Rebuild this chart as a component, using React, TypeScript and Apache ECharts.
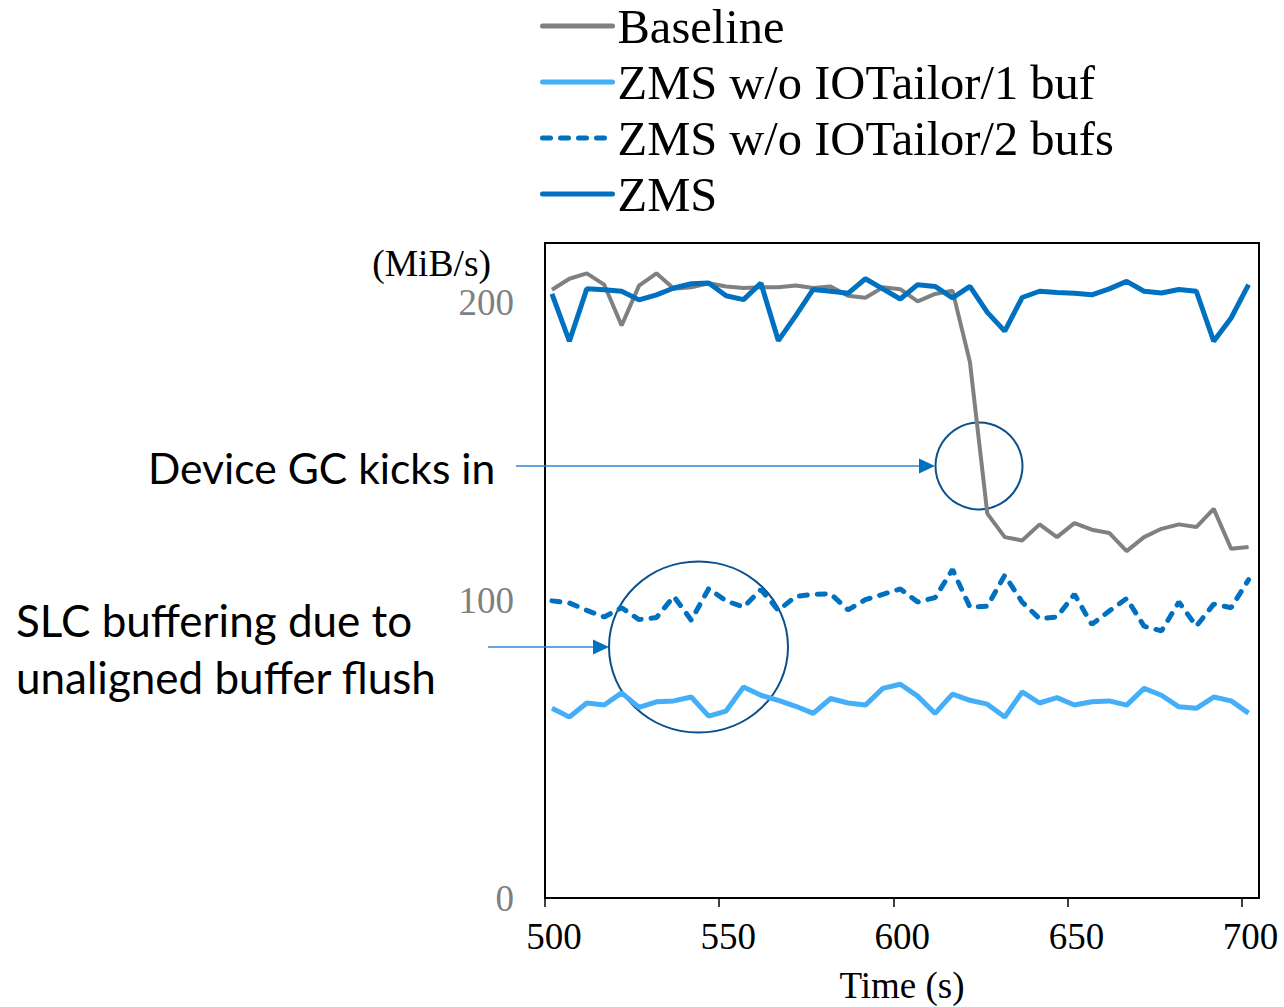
import React, { useEffect, useRef } from "react";
import * as echarts from "echarts";

const times = [502, 507, 512, 517, 522, 527, 532, 537, 542, 547, 552, 557, 562, 567, 572, 577, 582, 587, 592, 597, 602, 607, 612, 617, 622, 627, 632, 637, 642, 647, 652, 657, 662, 667, 672, 677, 682, 687, 692, 697, 702];

const baseline = [204.3, 208.0, 209.8, 206.0, 192.3, 205.7, 209.8, 204.6, 205.1, 206.5, 205.4, 204.9, 205.1, 205.1, 205.7, 204.9, 205.4, 202.3, 201.6, 205.1, 204.5, 200.4, 202.9, 204.0, 180.0, 129.1, 121.2, 120.1, 125.5, 121.2, 125.9, 123.7, 122.6, 116.5, 121.2, 124.0, 125.5, 124.6, 130.7, 117.3, 117.9];
const oneBuf = [63.7, 60.8, 65.5, 64.8, 68.9, 64.0, 65.9, 66.2, 67.5, 61.1, 62.8, 70.9, 68.1, 66.4, 64.4, 62.0, 67.0, 65.5, 64.8, 70.4, 71.8, 67.8, 62.0, 68.5, 66.4, 65.1, 60.8, 69.2, 65.5, 67.3, 64.8, 65.9, 66.2, 64.8, 70.4, 68.1, 64.2, 63.7, 67.5, 66.2, 62.1];
const twoBufs = [99.8, 99.1, 96.6, 94.4, 97.5, 93.5, 94.2, 101.3, 93.3, 103.9, 99.8, 97.7, 103.6, 96.6, 101.3, 102.0, 102.2, 96.8, 100.2, 102.0, 103.8, 99.4, 100.9, 110.3, 97.7, 98.0, 108.4, 99.4, 93.8, 94.4, 102.0, 91.9, 96.4, 100.6, 91.3, 89.7, 99.4, 91.3, 98.7, 97.5, 106.9];
const zms = [202.9, 187.0, 204.6, 204.3, 203.8, 200.9, 202.6, 204.9, 206.3, 206.6, 202.3, 201.0, 206.5, 187.2, 195.6, 204.4, 203.8, 203.1, 208.0, 204.6, 201.2, 206.0, 205.4, 201.6, 205.4, 196.7, 190.4, 201.7, 203.8, 203.4, 203.1, 202.6, 204.6, 207.1, 203.8, 203.2, 204.4, 203.8, 187.0, 194.8, 206.0];

const seriesNames = ["Baseline", "ZMS w/o IOTailor/1 buf", "ZMS w/o IOTailor/2 bufs", "ZMS"];
const xTicks = [500, 550, 600, 650, 700];
const yTicks = [0, 100, 200];

const serif = "'Liberation Serif', 'Times New Roman', serif";
const sans = "Lato, 'Noto Sans', sans-serif";

function pairs(vals: number[]) {
  return vals.map((v, i) => [times[i], v]);
}

export default function App() {
  const ref = useRef<HTMLDivElement>(null);
  useEffect(() => {
    document.body.style.margin = "0";
    const chart = echarts.init(ref.current!, null, { renderer: "svg" });
    const circleColor = "#0b4f8c";
    const arrowColor = "#0070c0";
    chart.setOption({
      animation: false,
      backgroundColor: "#ffffff",
      grid: {
        left: 545,
        right: 25,
        top: 243,
        bottom: 109,
        show: true,
        borderColor: "#000",
        borderWidth: 2,
        containLabel: false,
        outerBoundsMode: "none",
      },
      legend: {
        orient: "vertical",
        left: 540,
        top: 1,
        padding: 0,
        itemWidth: 70,
        itemHeight: 14,
        itemGap: 6,
        data: seriesNames,
        textStyle: { fontFamily: serif, fontSize: 48.5, color: "#000", lineHeight: 50 },
        lineStyle: { width: 5, cap: "round" },
        itemStyle: { opacity: 0 },
      },
      xAxis: {
        type: "value",
        min: 500,
        max: 705,
        interval: 50,
        axisLine: { show: true, lineStyle: { color: "#000", width: 2 } },
        axisTick: { show: true, length: 9, customValues: xTicks, lineStyle: { color: "#000", width: 1.5 } },
        axisLabel: {
          customValues: xTicks,
          margin: 20,
          fontFamily: serif,
          fontSize: 37,
          color: "#000",
          padding: [0, 0, 0, 18],
        },
        splitLine: { show: false },
        name: "Time (s)",
        nameLocation: "middle",
        nameGap: 69,
        nameTextStyle: { fontFamily: serif, fontSize: 37, color: "#000" },
      },
      yAxis: {
        type: "value",
        min: 0,
        max: 220,
        interval: 100,
        axisLine: { show: false },
        axisTick: { show: false },
        splitLine: { show: false },
        axisLabel: {
          margin: 31,
          fontFamily: serif,
          fontSize: 37,
          color: "#7f7f7f",
          formatter: (v: number) => (yTicks.includes(v) ? String(v) : ""),
        },
      },
      series: [
        {
          name: seriesNames[0],
          type: "line",
          data: pairs(baseline),
          symbol: "none",
          showSymbol: false,
          lineStyle: { color: "#808080", width: 4 },
          itemStyle: { color: "#808080" },
        },
        {
          name: seriesNames[1],
          type: "line",
          data: pairs(oneBuf),
          symbol: "none",
          showSymbol: false,
          lineStyle: { color: "#45aef8", width: 5 },
          itemStyle: { color: "#45aef8" },
        },
        {
          name: seriesNames[2],
          type: "line",
          data: pairs(twoBufs),
          symbol: "none",
          showSymbol: false,
          lineStyle: { color: "#0070c0", width: 5, type: [8, 10], cap: "round" },
          itemStyle: { color: "#0070c0" },
        },
        {
          name: seriesNames[3],
          type: "line",
          data: pairs(zms),
          symbol: "none",
          showSymbol: false,
          lineStyle: { color: "#0070c0", width: 5 },
          itemStyle: { color: "#0070c0" },
        },
      ],
      graphic: [
        {
          type: "text",
          x: 491,
          y: 263,
          style: { text: "(MiB/s)", fontFamily: serif, fontSize: 37.5, fill: "#000", align: "right", verticalAlign: "middle" },
        },
        {
          type: "text",
          x: 148,
          y: 467,
          style: { text: "Device GC kicks in", fontFamily: sans, fontSize: 42.6, fill: "#000", align: "left", verticalAlign: "middle" },
        },
        {
          type: "text",
          x: 16,
          y: 620,
          style: { text: "SLC buffering due to", fontFamily: sans, fontSize: 44, fill: "#000", align: "left", verticalAlign: "middle" },
        },
        {
          type: "text",
          x: 16,
          y: 677,
          style: { text: "unaligned buffer flush", fontFamily: sans, fontSize: 44, fill: "#000", align: "left", verticalAlign: "middle" },
        },
        {
          type: "line",
          shape: { x1: 516, y1: 466, x2: 921, y2: 466 },
          style: { stroke: "#2f88d4", lineWidth: 1.5 },
        },
        {
          type: "polygon",
          shape: { points: [[935, 466], [919, 458.5], [919, 473.5]] },
          style: { fill: arrowColor },
        },
        {
          type: "circle",
          shape: { cx: 979, cy: 466, r: 43.5 },
          style: { fill: "none", stroke: circleColor, lineWidth: 2 },
        },
        {
          type: "line",
          shape: { x1: 488, y1: 647, x2: 595, y2: 647 },
          style: { stroke: "#2f88d4", lineWidth: 1.5 },
        },
        {
          type: "polygon",
          shape: { points: [[609, 647], [593, 639.5], [593, 654.5]] },
          style: { fill: arrowColor },
        },
        {
          type: "ellipse",
          shape: { cx: 698.5, cy: 647, rx: 89.5, ry: 85.5 },
          style: { fill: "none", stroke: circleColor, lineWidth: 2 },
        },
      ],
    });
    return () => chart.dispose();
  }, []);
  return <div ref={ref} style={{ position: "absolute", left: 0, top: 0, width: 1284, height: 1007 }} />;
}
